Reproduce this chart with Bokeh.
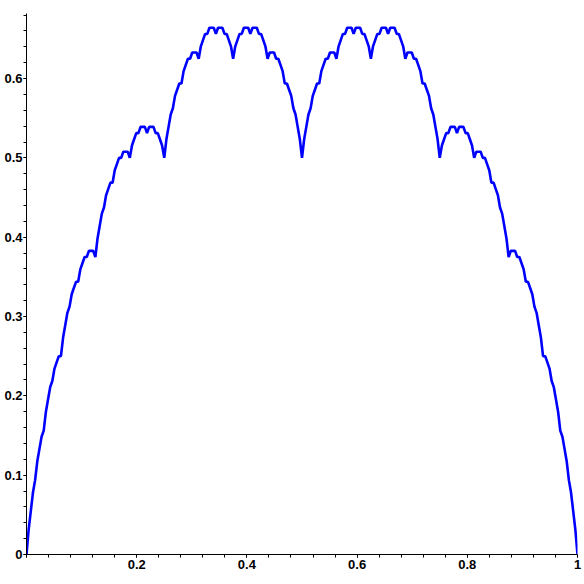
from bokeh.plotting import figure
from bokeh.models import FixedTicker, CustomJSTickFormatter, Range1d
from bokeh.embed import file_html
from bokeh.resources import INLINE

# Curve heights, in units of 1/256, at x = k/256 (k = 0..256)
y_256ths = [
    0, 8, 14, 20, 24, 30, 34, 38, 40, 46, 50, 54, 56, 60, 62, 64,
    64, 70, 74, 78, 80, 84, 86, 88, 88, 92, 94, 96, 96, 98, 98, 98,
    96, 102, 106, 110, 112, 116, 118, 120, 120, 124, 126, 128, 128, 130, 130, 130,
    128, 132, 134, 136, 136, 138, 138, 138, 136, 138, 138, 138, 136, 136, 134, 132,
    128, 134, 138, 142, 144, 148, 150, 152, 152, 156, 158, 160, 160, 162, 162, 162,
    160, 164, 166, 168, 168, 170, 170, 170, 168, 170, 170, 170, 168, 168, 166, 164,
    160, 164, 166, 168, 168, 170, 170, 170, 168, 170, 170, 170, 168, 168, 166, 164,
    160, 162, 162, 162, 160, 160, 158, 156, 152, 152, 150, 148, 144, 142, 138, 134,
    128,
    134, 138, 142, 144, 148, 150, 152, 152, 156, 158, 160, 160, 162, 162, 162, 160,
    164, 166, 168, 168, 170, 170, 170, 168, 170, 170, 170, 168, 168, 166, 164, 160,
    164, 166, 168, 168, 170, 170, 170, 168, 170, 170, 170, 168, 168, 166, 164, 160,
    162, 162, 162, 160, 160, 158, 156, 152, 152, 150, 148, 144, 142, 138, 134, 128,
    132, 134, 136, 136, 138, 138, 138, 136, 138, 138, 138, 136, 136, 134, 132, 128,
    130, 130, 130, 128, 128, 126, 124, 120, 120, 118, 116, 112, 110, 106, 102, 96,
    98, 98, 98, 96, 96, 94, 92, 88, 88, 86, 84, 80, 78, 74, 70, 64,
    64, 62, 60, 56, 54, 50, 46, 40, 38, 34, 30, 24, 20, 14, 8, 0,
]
x_256ths = list(range(len(y_256ths)))

x_ticks = [0, 0.2, 0.4, 0.6, 0.8, 1.0]
y_ticks = [0, 0.1, 0.2, 0.3, 0.4, 0.5, 0.6]
x_minor = [i * 0.04 for i in range(26)]
y_minor = [i * 0.02 for i in range(35)]

xs = [v / 256 for v in x_256ths]
ys = [v / 256 for v in y_256ths]

p = figure(width=584, height=571, output_backend="svg", toolbar_location=None,
           x_range=Range1d(0, 1.0), y_range=Range1d(0, 0.682),
           min_border_left=26, min_border_right=7, min_border_top=13, min_border_bottom=0)
p.outline_line_color = None
p.xgrid.visible = False
p.ygrid.visible = False
p.background_fill_color = "white"

p.line(xs, ys, line_color="#0000ff", line_width=2.6)

p.xaxis.ticker = FixedTicker(ticks=x_ticks, minor_ticks=x_minor)
p.yaxis.ticker = FixedTicker(ticks=y_ticks, minor_ticks=y_minor)
p.xaxis.formatter = CustomJSTickFormatter(code="if (Math.abs(tick) < 1e-9) { return ''; } return String(Math.round(tick*10)/10);")
p.yaxis.formatter = CustomJSTickFormatter(code="return String(Math.round(tick*10)/10);")

for ax in (p.xaxis, p.yaxis):
    ax.axis_line_color = "black"
    ax.axis_line_width = 1
    ax.major_tick_in = 0
    ax.major_tick_out = 3
    ax.minor_tick_in = 0
    ax.minor_tick_out = 3
    ax.major_tick_line_color = "black"
    ax.minor_tick_line_color = "black"
    ax.major_label_text_font = "Liberation Sans"
    ax.major_label_text_font_style = "bold"
    ax.major_label_text_font_size = "13px"
    ax.major_label_text_color = "black"

p.yaxis.major_label_standoff = 1
p.xaxis.major_label_standoff = 2

open("out.html", "w").write(file_html(p, INLINE))
